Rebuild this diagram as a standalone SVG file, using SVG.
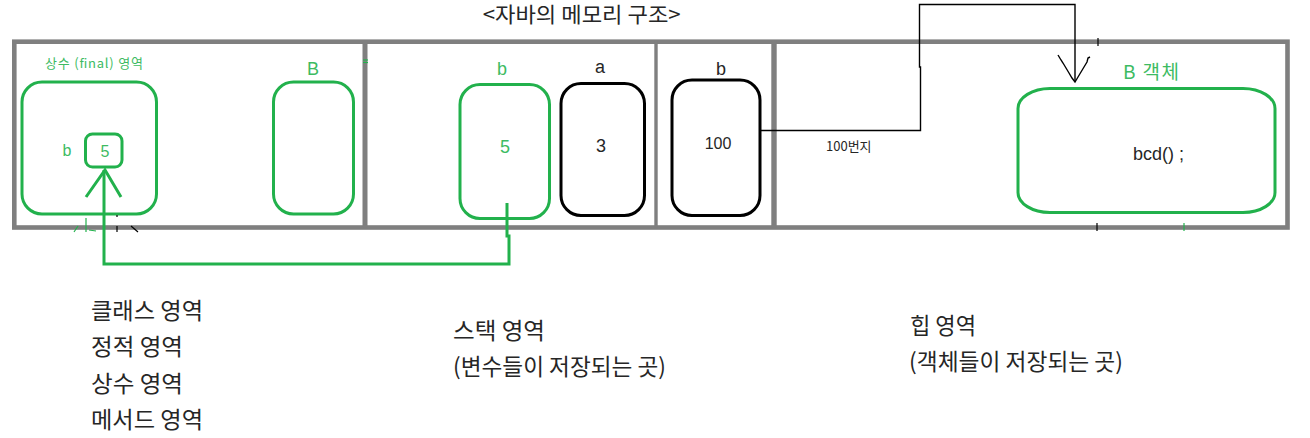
<svg xmlns="http://www.w3.org/2000/svg" width="1310" height="438" viewBox="0 0 1310 438">
<style>
.frame{fill:none;stroke:#7f7f7f;stroke-width:4.6}
.div{stroke:#7f7f7f;fill:none}
.gbox{fill:none;stroke:#22b14c;stroke-width:3}
.kbox{fill:none;stroke:#000;stroke-width:3}
.gt{fill:#3dbb62;font-family:"Liberation Sans","Noto Sans CJK KR",sans-serif}
.kt{fill:#262626;font-family:"Liberation Sans","Noto Sans CJK KR",sans-serif}
.kr{fill:#262626;font-family:"Noto Sans CJK KR","Liberation Sans",sans-serif}
.gkr{fill:#3dbb62;font-family:"Noto Sans CJK KR","Liberation Sans",sans-serif}
.gl{fill:none;stroke:#22b14c;stroke-width:3;stroke-linejoin:miter}
.bl{fill:none;stroke:#000;stroke-width:1.4}
.tick{stroke:#000;stroke-width:1.2}
.gtick{stroke:#22b14c;stroke-width:1.2}
.lab{font-size:23px}
</style>
<rect width="1310" height="438" fill="#fff"/>
<text class="kr" x="482.7" y="22" font-size="21" textLength="198" lengthAdjust="spacingAndGlyphs">&lt;자바의 메모리 구조&gt;</text>
<g id="memory-frame">
<rect class="frame" x="14.3" y="41.7" width="1273.2" height="185.8"/>
<line class="div" x1="365" y1="41.7" x2="365" y2="227.5" stroke-width="5"/>
<line class="div" x1="656" y1="41.7" x2="656" y2="227.5" stroke-width="3.4"/>
<line class="div" x1="774" y1="41.7" x2="774" y2="227.5" stroke-width="5.4"/>
</g>
<g id="class-area">
<text class="gkr" x="45" y="68" font-size="13" textLength="98">상수 (final) 영역</text>
<g id="constant-box"><rect class="gbox" x="22" y="82" width="134.5" height="132" rx="20" ry="20"/></g>
<g id="const-b">
<text class="gt" x="67" y="156" font-size="16" text-anchor="middle">b</text>
<rect class="gbox" x="85.5" y="134" width="36.5" height="33" rx="7" ry="7"/>
<text class="gt" x="105" y="156.5" font-size="16" text-anchor="middle">5</text>
</g>
<g id="class-B">
<text class="gt" x="313" y="74.5" font-size="18" text-anchor="middle">B</text>
<rect class="gbox" x="273.5" y="82" width="80" height="132" rx="20" ry="20"/>
</g>
</g>
<g id="stack-area">
<g id="stack-b">
<text class="gt" x="502" y="74.5" font-size="18" text-anchor="middle">b</text>
<rect class="gbox" x="460" y="84.5" width="89.5" height="134" rx="20" ry="20"/>
<text class="gt" x="505" y="153" font-size="18" text-anchor="middle">5</text>
</g>
<g id="stack-a">
<text class="kt" x="600" y="73" font-size="18" text-anchor="middle">a</text>
<rect class="kbox" x="561" y="83.5" width="83.5" height="132" rx="20" ry="20"/>
<text class="kt" x="601" y="151.5" font-size="18" text-anchor="middle">3</text>
</g>
<g id="stack-ref-b">
<text class="kt" x="721" y="75" font-size="18" text-anchor="middle">b</text>
<rect class="kbox" x="672" y="80" width="88" height="135.5" rx="20" ry="20"/>
<text class="kt" x="718" y="149" font-size="16" text-anchor="middle">100</text>
</g>
</g>
<g id="heap-area">
<text class="gkr" x="1123" y="79" font-size="19" textLength="56">B 객체</text>
<g id="heap-object">
<rect class="gbox" x="1018" y="88.5" width="257" height="124" rx="32" ry="20"/>
<text class="kt" x="1133" y="160" font-size="18">bcd() ;</text>
</g>
</g>
<g id="connectors">
<path class="gl" d="M507 203 V236 H509 V264 H104 V170"/>
<path class="gl" d="M86 197 L105 170 L121 197"/>
<path class="bl" d="M761 130.5 H920.5 V67 H919.5 V4.5 H1075 V82"/>
<path class="bl" d="M1058 55 L1061 60 L1063 63 L1066 68 L1069 73 L1072 78 L1075 82 L1078 77 L1081 72 L1084 67 L1087 62 L1088 58 L1090 57" stroke-width="1"/>
<text class="kr" x="826" y="151" font-size="13">100번지</text>
</g>
<g id="marks">
<line class="gtick" x1="363" y1="60" x2="368" y2="60" stroke-width="1"/>
<line class="gtick" x1="363" y1="62.5" x2="368" y2="62.5" stroke-width="1"/>
<line class="gtick" x1="74" y1="232" x2="78" y2="226"/>
<line class="gtick" x1="86" y1="218" x2="86" y2="232"/>
<line class="gtick" x1="89" y1="230" x2="96" y2="231"/>
<line class="tick" x1="117" y1="215" x2="117" y2="217"/>
<line class="tick" x1="117" y1="226" x2="117" y2="232"/>
<line class="tick" x1="131" y1="226" x2="138" y2="232"/>
<line class="tick" x1="1098" y1="38" x2="1098" y2="46"/>
<line class="tick" x1="1097" y1="223" x2="1097" y2="231"/>
<line class="gtick" x1="1184" y1="223" x2="1184" y2="231"/>
</g>
<g id="labels">
<text class="kr lab" x="91" y="319" textLength="112" lengthAdjust="spacingAndGlyphs">클래스 영역</text>
<text class="kr lab" x="91" y="355" textLength="92" lengthAdjust="spacingAndGlyphs">정적 영역</text>
<text class="kr lab" x="91" y="392" textLength="92" lengthAdjust="spacingAndGlyphs">상수 영역</text>
<text class="kr lab" x="91" y="428" textLength="112" lengthAdjust="spacingAndGlyphs">메서드 영역</text>
<text class="kr lab" x="453" y="339" textLength="92" lengthAdjust="spacingAndGlyphs">스택 영역</text>
<text class="kr lab" x="453" y="375" textLength="213" lengthAdjust="spacingAndGlyphs">(변수들이 저장되는 곳)</text>
<text class="kr lab" x="910" y="334" textLength="66" lengthAdjust="spacingAndGlyphs">힙 영역</text>
<text class="kr lab" x="909" y="370" textLength="214" lengthAdjust="spacingAndGlyphs">(객체들이 저장되는 곳)</text>
</g>
</svg>
